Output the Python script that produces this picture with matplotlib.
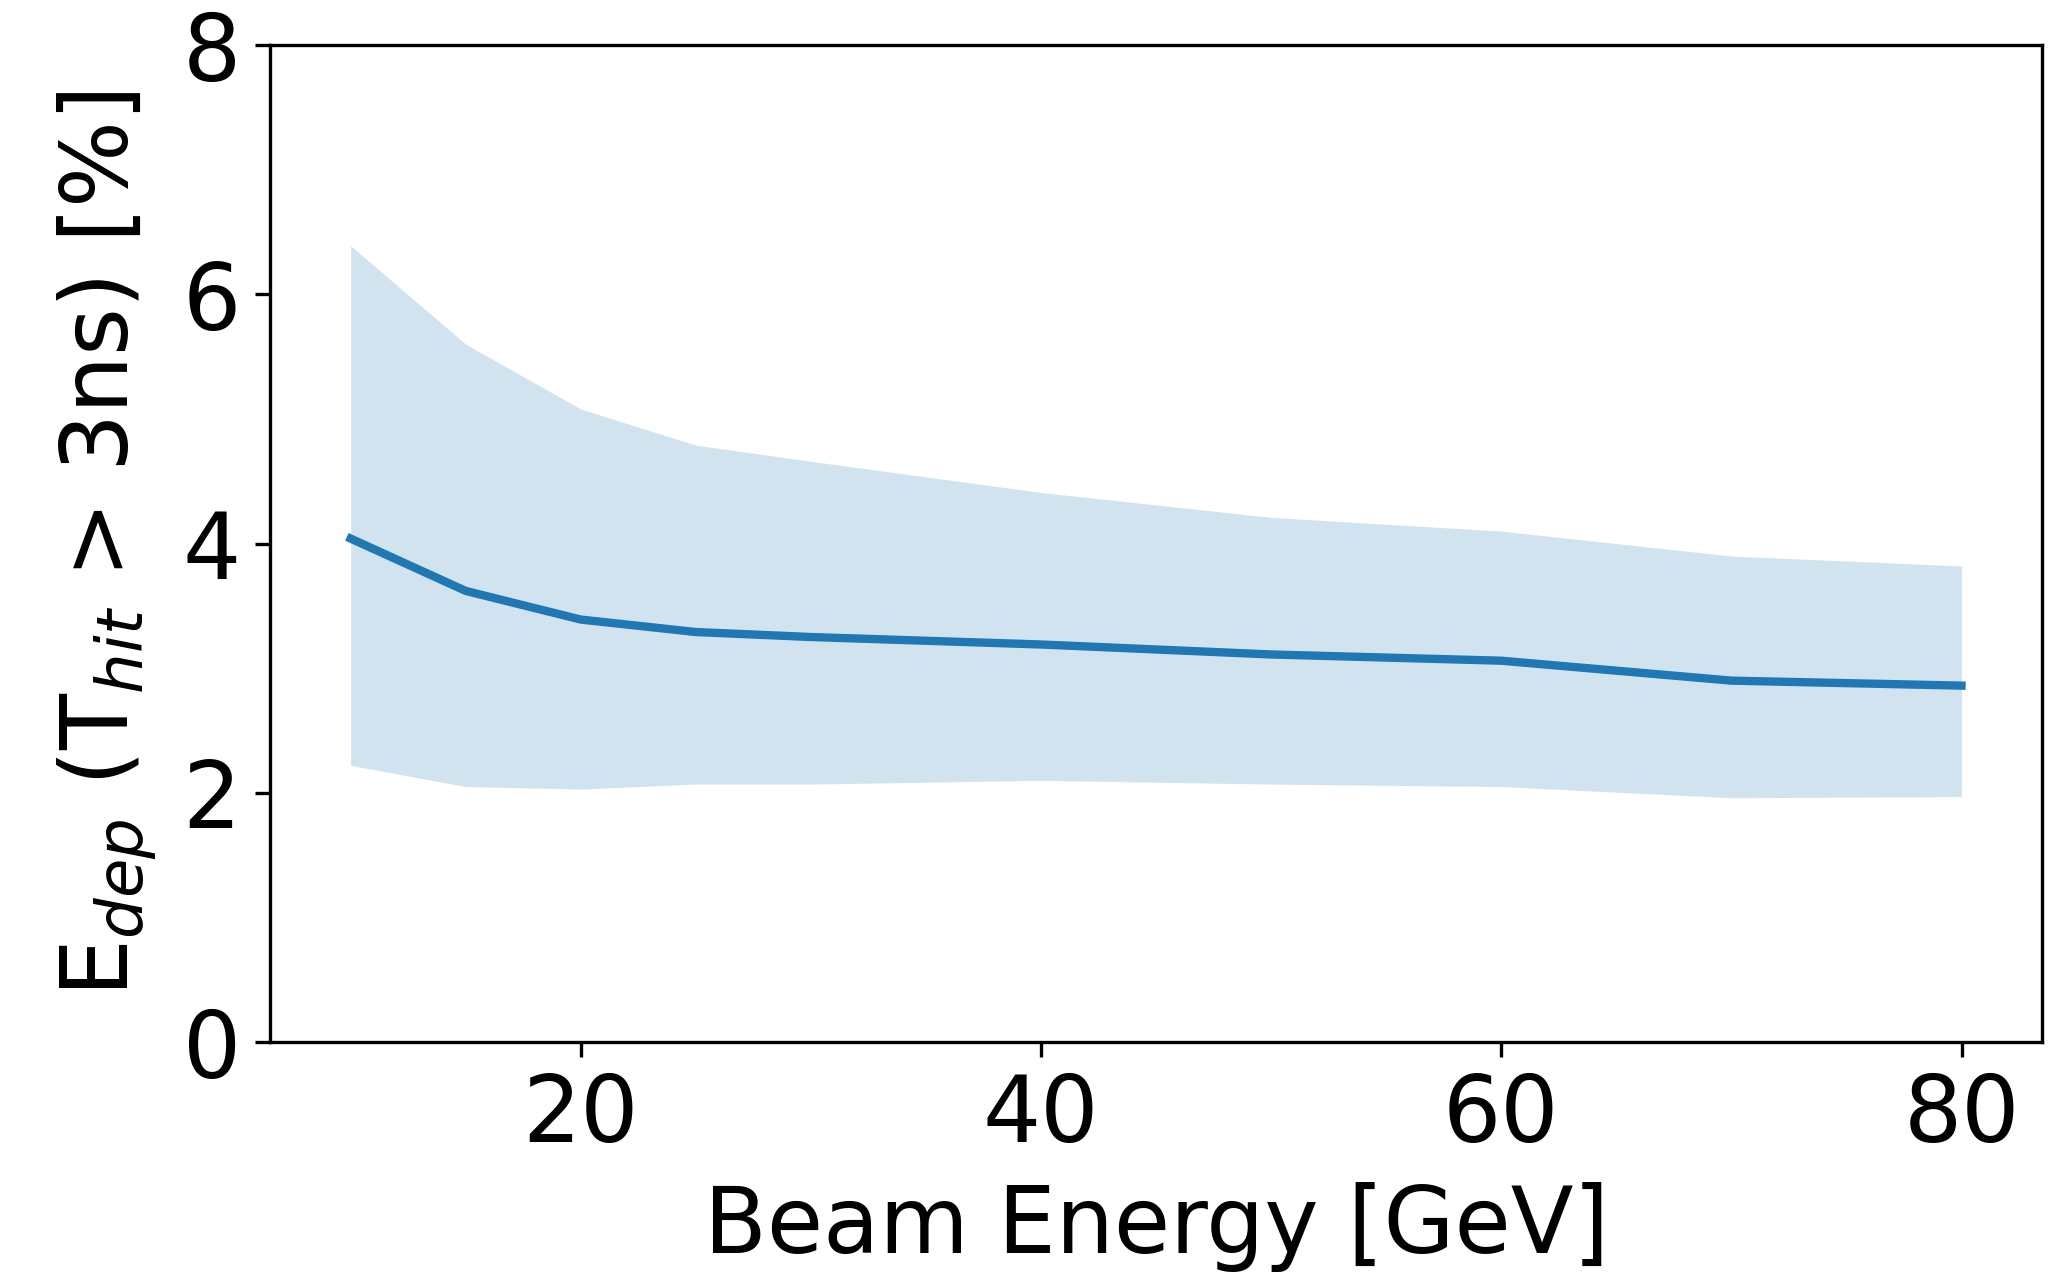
import numpy as np
import matplotlib
matplotlib.use('Agg')
import matplotlib.pyplot as plt

# beam energies [GeV]
energy = [10, 15, 20, 25, 30, 40, 50, 60, 70, 80]
# mean fraction of deposited energy with T_hit > 3ns [%]
frac_mean = [4.04, 3.62, 3.39, 3.29, 3.25, 3.19, 3.11, 3.06, 2.90, 2.86]
frac_upper = [6.39, 5.60, 5.08, 4.79, 4.66, 4.41, 4.21, 4.10, 3.90, 3.82]
frac_lower = [2.22, 2.05, 2.03, 2.07, 2.07, 2.10, 2.07, 2.05, 1.96, 1.97]

fs = 22

fig = plt.figure(figsize=(2065/300., 1280/300.), dpi=300)
ax = fig.add_axes([0.1308, 0.1859, 0.9889-0.1308, 0.9648-0.1859])

ax.fill_between(energy, frac_lower, frac_upper, color='C0', alpha=0.2, lw=0)
ax.plot(energy, frac_mean, c='C0', lw=2)

ax.set_ylim(0, 8)
ax.set_yticks([0, 2, 4, 6, 8])
ax.set_xticks([20, 40, 60, 80])
ax.tick_params(labelsize=fs)

ax.set_xlabel('Beam Energy [GeV]', fontsize=fs, labelpad=5)
ax.set_ylabel(r'E$_{dep}$ (T$_{hit}$ > 3ns) [%]', fontsize=fs, labelpad=6)

plt.savefig('out.png', dpi=300)
